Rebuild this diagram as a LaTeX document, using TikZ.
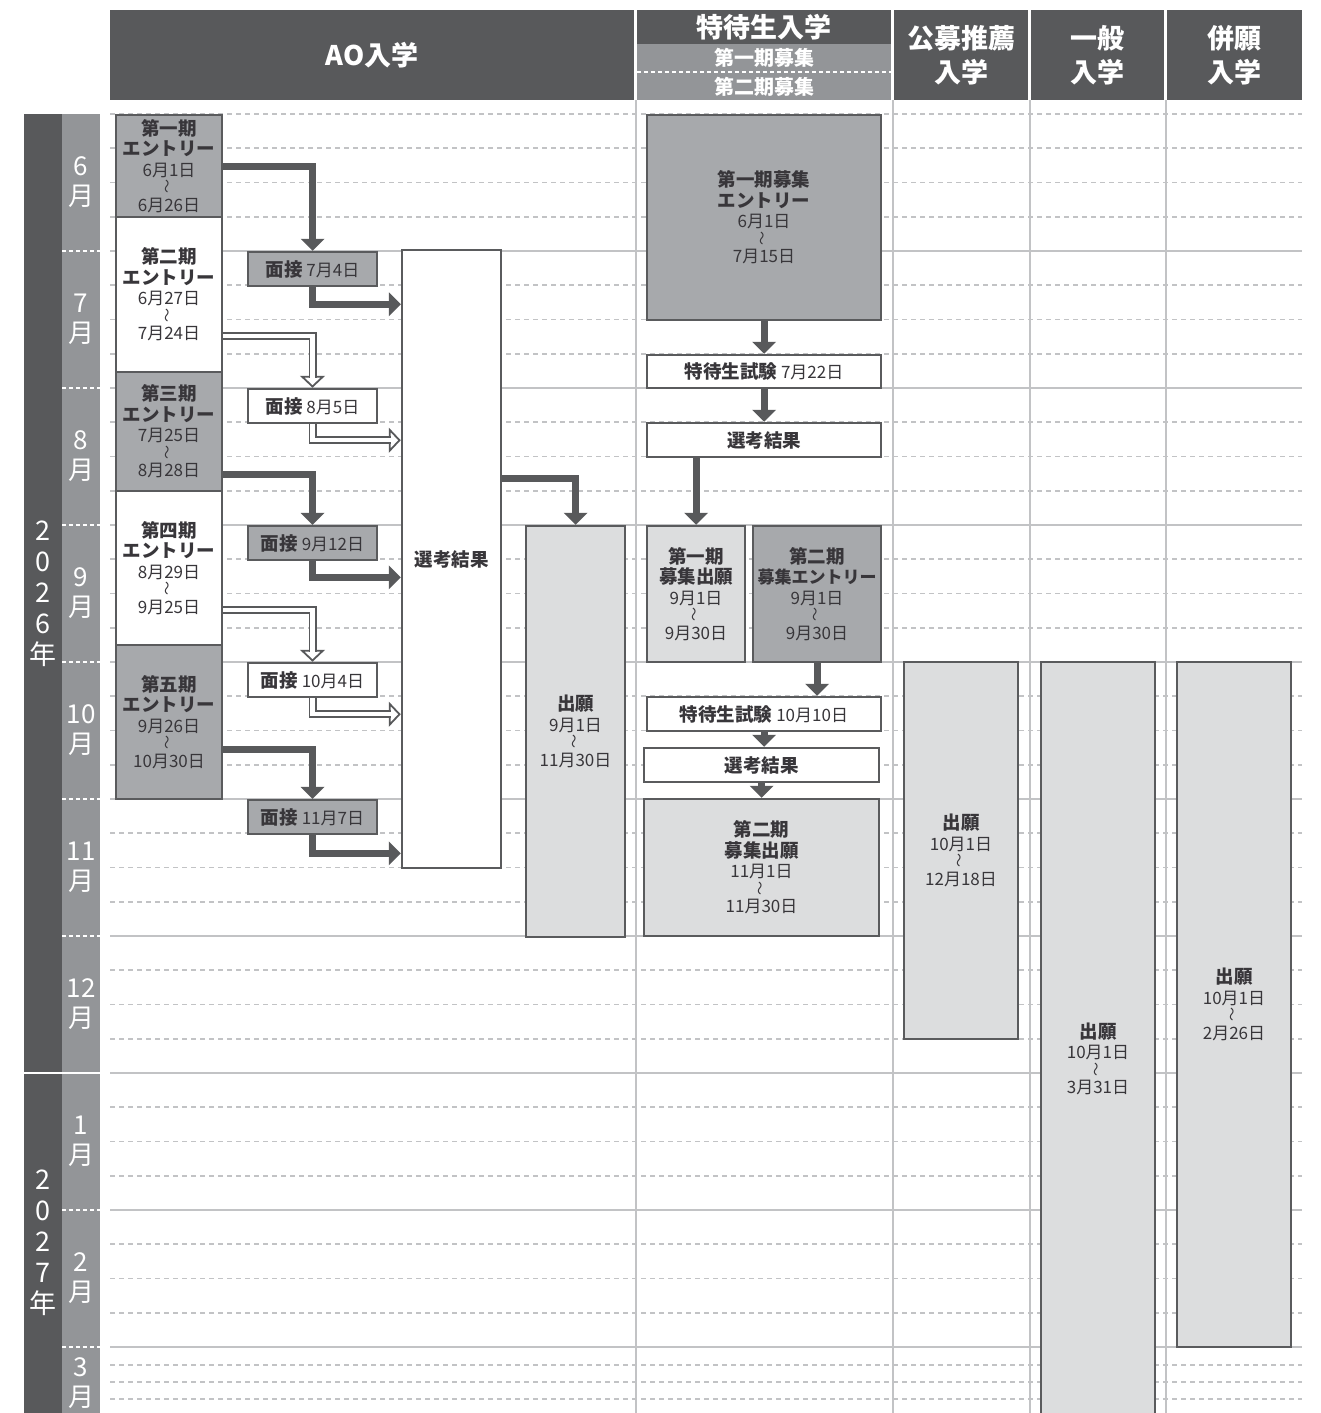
\documentclass[tikz,border=0pt]{standalone}
\usepackage{fontspec}
\setmainfont{Noto Sans CJK JP}
\usepackage{graphicx}
\usetikzlibrary{arrows.meta,calc}
\definecolor{dark}{HTML}{58595B}
\definecolor{monthgray}{HTML}{939598}
\definecolor{boxgray}{HTML}{A7A9AC}
\definecolor{palegray}{HTML}{DCDDDE}
\definecolor{gridgray}{HTML}{C2C3C5}
\definecolor{edge}{HTML}{5A5B5D}
\definecolor{ink}{HTML}{38363A}
\newcommand{\kara}{\rotatebox{90}{\fontsize{14}{14}\selectfont 〜}}
\newcommand{\period}[2]{#1\\[-3pt]\kara\\[-3pt]#2}
\newcommand{\lab}[1]{{\bfseries\fontsize{18.5}{20.5}\selectfont #1}}
\tikzset{
  datebox/.style={draw=edge, line width=2.5pt, inner sep=0pt, align=center, text=ink,
                  font=\fontsize{17}{20.5}\selectfont},
  datetext/.style={inner sep=0pt, align=center, text=ink, font=\fontsize{17}{20.5}\selectfont},
  midfill/.style={fill=boxgray},
  palefill/.style={fill=palegray},
  whitefill/.style={fill=white},
  entrybox/.style={datebox, minimum width=106pt},
  ivbox/.style={datebox, minimum width=129pt, minimum height=34pt},
  colhead/.style={fill=dark, text=white, inner sep=0pt, align=center,
                  font=\bfseries\fontsize{27}{34}\selectfont},
  subhead/.style={text=white, inner sep=0pt, font=\bfseries\fontsize{20}{24}\selectfont},
  fwd/.style={draw=dark, line width=7pt, -{Triangle[width=24pt,length=12pt,line width=0pt]}},
  hollowline/.style={draw=dark, line width=1.8pt, double=white, double distance=4.4pt, shorten >=10pt},
  hollowtip/.style={draw=dark, line width=1.8pt, -{Triangle[width=25pt,length=12pt,fill=white]}},
  quarter/.style={draw=gridgray, line width=1.8pt, dash pattern=on 5pt off 4pt},
  monthline/.style={draw=gridgray, line width=2pt},
  colline/.style={draw=gridgray, line width=2pt},
  monthlabel/.style={text=white, inner sep=0pt, align=center, font=\fontsize{26}{30}\selectfont},
  yearlabel/.style={text=white, inner sep=0pt, align=center, font=\fontsize{27}{31}\selectfont},
}

\begin{document}
\begin{tikzpicture}[x=1pt, y=-1pt]
  \useasboundingbox (0,0) rectangle (1320,1413);

  % headers
  \node[colhead, minimum width=524pt, minimum height=90pt] (aohead) at (372,55) {AO入学};
  \node[colhead, minimum width=254pt, minimum height=34pt] (tkhead) at (764,27) {特待生入学};
  \node[colhead, fill=monthgray, minimum width=254pt, minimum height=56pt] (tksub) at (764,72) {};
  \node[subhead] (tksub1) at (764,58) {第一期募集};
  \node[subhead] (tksub2) at (764,87) {第二期募集};
  \draw[white, line width=1.2pt, dash pattern=on 4pt off 3pt] (tksub.west) -- (tksub.east);
  \node[colhead, minimum width=134pt, minimum height=90pt] (kohead) at (961,55) {公募推薦\\入学};
  \node[colhead, minimum width=133pt, minimum height=90pt] (iphead) at (1097.5,55) {一般\\入学};
  \node[colhead, minimum width=135pt, minimum height=90pt] (hehead) at (1234.5,55) {併願\\入学};

  % year and month columns
  \fill[dark] (24,114) rectangle (62,1413);
  \fill[monthgray] (62,114) rectangle (100,1413);
  \draw[white, line width=2.5pt] (24,1073) -- (100,1073);
  \foreach \y in {251,388,525,662,799,936,1210,1347}
    \draw[white, line width=2pt, dash pattern=on 4pt off 3pt] (62,\y) -- (100,\y);
  \node[yearlabel] (y2026) at (43,594) {2\\0\\2\\6\\年};
  \node[yearlabel] (y2027) at (43,1243) {2\\0\\2\\7\\年};
  \foreach \m/\t in {0/6,1/7,2/8,3/9,4/10,5/11,6/12,7/1,8/2}
    \node[monthlabel] (mon\m) at (81,{182.5+137*\m}) {\t\\月};
  \node[monthlabel] (mon9) at (81,1383) {3\\月};

  % grid
  \draw[quarter] (110,114) -- (1302,114);
  \foreach \m in {0,...,8}
    \foreach \q in {1,2,3}
      \draw[quarter] (110,{114+137*\m+34.25*\q}) -- (1302,{114+137*\m+34.25*\q});
  \foreach \y in {1365,1382,1399}
    \draw[quarter] (110,\y) -- (1302,\y);
  \foreach \m in {1,...,9}
    \draw[monthline] (110,{114+137*\m}) -- (1302,{114+137*\m});
  \foreach \x in {636,893,1030,1166}
    \draw[colline] (\x,100) -- (\x,1413);

  % AO entries
  \node[entrybox, midfill, minimum height=102pt] (ent1) at (169,166)
    {\lab{第一期}\\\lab{エントリー}\\\period{6月1日}{6月26日}};
  \node[entrybox, whitefill, minimum height=155pt] (ent2) at (169,294.5)
    {\lab{第二期}\\\lab{エントリー}\\\period{6月27日}{7月24日}};
  \node[entrybox, midfill, minimum height=119pt] (ent3) at (169,431.5)
    {\lab{第三期}\\\lab{エントリー}\\\period{7月25日}{8月28日}};
  \node[entrybox, whitefill, minimum height=154pt] (ent4) at (169,568)
    {\lab{第四期}\\\lab{エントリー}\\\period{8月29日}{9月25日}};
  \node[entrybox, midfill, minimum height=154pt] (ent5) at (169,722)
    {\lab{第五期}\\\lab{エントリー}\\\period{9月26日}{10月30日}};

  % interviews
  \node[ivbox, midfill] (iv1) at (312.5,269) {\lab{面接} 7月4日};
  \node[ivbox, whitefill] (iv2) at (312.5,406) {\lab{面接} 8月5日};
  \node[ivbox, midfill] (iv3) at (312.5,543) {\lab{面接} 9月12日};
  \node[ivbox, whitefill] (iv4) at (312.5,680) {\lab{面接} 10月4日};
  \node[ivbox, midfill] (iv5) at (312.5,817) {\lab{面接} 11月7日};

  \node[datebox, whitefill, minimum width=99pt, minimum height=618pt] (res) at (451.5,559) {\lab{選考結果}};
  \node[datebox, palefill, minimum width=99pt, minimum height=411pt] (app) at (575.5,731.5)
    {\lab{出願}\\\period{9月1日}{11月30日}};

  % AO arrows
  \draw[fwd] (ent1.east) -| (iv1.north);
  \draw[fwd] (iv1.south) |- ($(iv1.south -| res.west)+(0,17)$);
  \draw[hollowtip] ($(iv2.north)+(0,-13)$) -- (iv2.north);
  \draw[hollowline] ($(ent2.east)+(0,41.5)$) -| (iv2.north);
  \draw[hollowtip] ($(iv2.south -| res.west)+(-13,16)$) -- ($(iv2.south -| res.west)+(0,16)$);
  \draw[hollowline] (iv2.south) |- ($(iv2.south -| res.west)+(0,16)$);
  \draw[fwd] ($(ent3.east)+(0,42.5)$) -| (iv3.north);
  \draw[fwd] (iv3.south) |- ($(iv3.south -| res.west)+(0,16)$);
  \draw[hollowtip] ($(iv4.north)+(0,-13)$) -- (iv4.north);
  \draw[hollowline] ($(ent4.east)+(0,42)$) -| (iv4.north);
  \draw[hollowtip] ($(iv4.south -| res.west)+(-13,16)$) -- ($(iv4.south -| res.west)+(0,16)$);
  \draw[hollowline] (iv4.south) |- ($(iv4.south -| res.west)+(0,16)$);
  \draw[fwd] ($(ent5.east)+(0,27)$) -| (iv5.north);
  \draw[fwd] (iv5.south) |- ($(iv5.south -| res.west)+(0,18)$);
  \draw[fwd] ($(res.east)+(0,-81)$) -| (app.north);

  % tokutai
  \node[datebox, midfill, minimum width=234pt, minimum height=205pt] (tkent1) at (764,217.5)
    {\lab{第一期募集}\\\lab{エントリー}\\\period{6月1日}{7月15日}};
  \node[datebox, whitefill, minimum width=234pt, minimum height=33pt] (tkexam1) at (764,371.5)
    {\lab{特待生試験} 7月22日};
  \node[datebox, whitefill, minimum width=234pt, minimum height=34pt] (tkres1) at (764,440) {\lab{選考結果}};
  \node[datebox, palefill, minimum width=98pt, minimum height=136pt] (tkapp1) at (696,594)
    {\lab{第一期}\\\lab{募集出願}\\\period{9月1日}{9月30日}};
  \node[datebox, midfill, minimum width=128pt, minimum height=136pt] (tkent2) at (817,594)
    {\lab{第二期}\\\textbf{募集エントリー}\\\period{9月1日}{9月30日}};
  \node[datebox, whitefill, minimum width=234pt, minimum height=34pt] (tkexam2) at (764,714)
    {\lab{特待生試験} 10月10日};
  \node[datebox, whitefill, minimum width=235pt, minimum height=34pt] (tkres2) at (761.5,765) {\lab{選考結果}};
  \node[datebox, palefill, minimum width=235pt, minimum height=137pt] (tkapp2) at (761.5,867.5)
    {\lab{第二期}\\\lab{募集出願}\\\period{11月1日}{11月30日}};

  \draw[fwd] (tkent1.south) -- (tkexam1.north);
  \draw[fwd] (tkexam1.south) -- (tkres1.north);
  \draw[fwd] (tkres1.south -| tkapp1.north) -- (tkapp1.north);
  \draw[fwd] (tkent2.south) -- (tkent2.south |- tkexam2.north);
  \draw[fwd] (tkexam2.south) -- (tkexam2.south |- tkres2.north);
  \draw[fwd] (tkres2.south) -- (tkapp2.north);

  % other admissions
  \node[datebox, palefill, minimum width=114pt, minimum height=377pt] (koapp) at (961,850.5)
    {\lab{出願}\\\period{10月1日}{12月18日}};
  \node[datebox, palefill, minimum width=114pt, minimum height=763pt] (ipapp) at (1098,1043.5) {};
  \node[datetext] (iptext) at (1098,1059) {\lab{出願}\\\period{10月1日}{3月31日}};
  \node[datebox, palefill, minimum width=114pt, minimum height=685pt] (heapp) at (1234,1004.5)
    {\lab{出願}\\\period{10月1日}{2月26日}};
\end{tikzpicture}
\end{document}
